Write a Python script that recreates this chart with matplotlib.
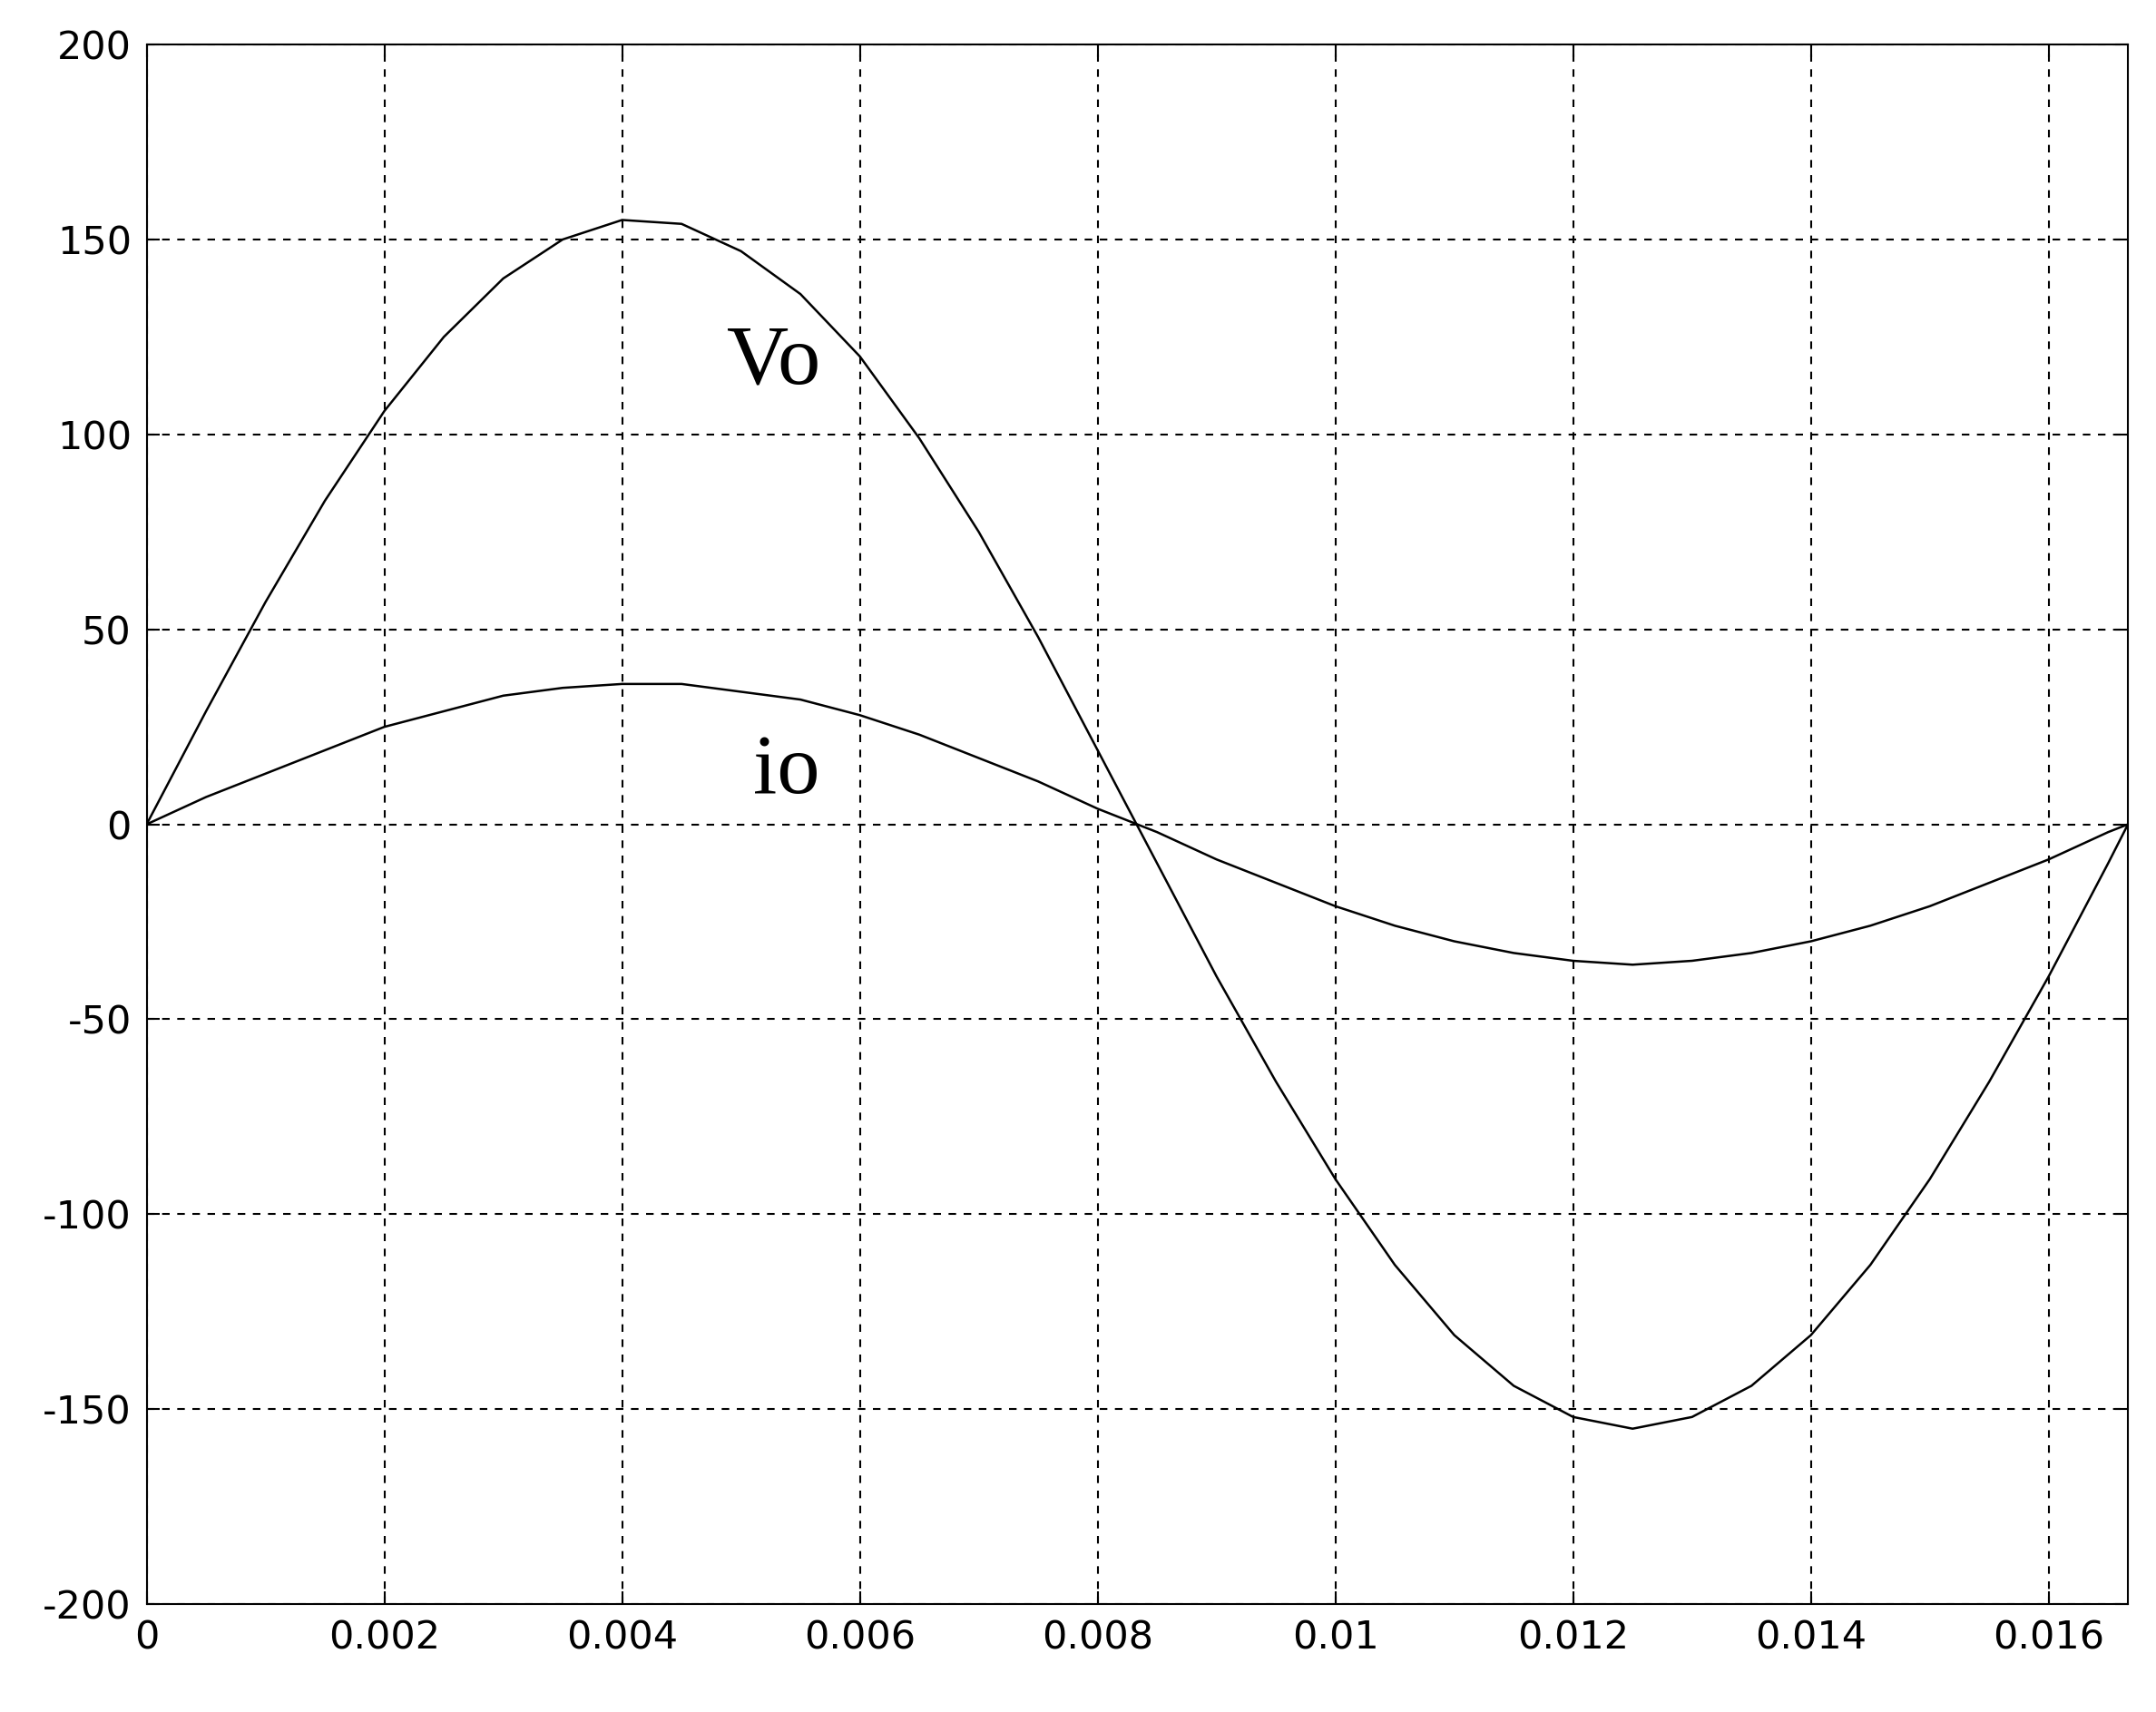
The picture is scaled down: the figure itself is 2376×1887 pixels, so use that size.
import numpy as np
import matplotlib
matplotlib.use("Agg")
import matplotlib.pyplot as plt

plt.rcParams["axes.unicode_minus"] = False

# Values (time in s)
t = [0, 0.0005, 0.001, 0.0015, 0.002, 0.0025, 0.003, 0.0035, 0.004, 0.0045,
     0.005, 0.0055, 0.006, 0.0065, 0.007, 0.0075, 0.008, 0.0085, 0.009, 0.0095,
     0.010, 0.0105, 0.011, 0.0115, 0.012, 0.0125, 0.013, 0.0135, 0.014, 0.0145,
     0.015, 0.0155, 0.016, 0.0165, 0.016667]
vo = [0, 29, 57, 83, 106, 125, 140, 150, 155, 154,
      147, 136, 120, 99, 75, 48, 19, -10, -39, -66,
      -91, -113, -131, -144, -152, -155, -152, -144, -131, -113,
      -91, -66, -39, -10, 0]
io = [0, 7, 13, 19, 25, 29, 33, 35, 36, 36,
      34, 32, 28, 23, 17, 11, 4, -2, -9, -15,
      -21, -26, -30, -33, -35, -36, -35, -33, -30, -26,
      -21, -15, -9, -2, 0]
xticks = [0, 0.002, 0.004, 0.006, 0.008, 0.01, 0.012, 0.014, 0.016]
xlabels = ["0", "0.002", "0.004", "0.006", "0.008", "0.01", "0.012", "0.014", "0.016"]
yticks = [-200, -150, -100, -50, 0, 50, 100, 150, 200]

fig = plt.figure(figsize=(23.76, 18.87), dpi=100)
ax = fig.add_axes([0.068, 0.063, 0.919, 0.911])
ax.plot(t, vo, color="black", lw=1.8)
ax.plot(t, io, color="black", lw=1.8)
ax.set_xlim(0, 0.016667)
ax.set_ylim(-200, 200)
ax.set_xticks(xticks)
ax.set_xticklabels(xlabels)
ax.set_yticks(yticks)
ax.tick_params(direction="in", labelsize=31, length=10, width=1.5, pad=12,
               top=True, right=True)
ax.grid(True, color="black", linestyle=(0, (4, 4)), lw=1.5)
for s in ax.spines.values():
    s.set_linewidth(1.5)

ax.text(0.00488, 113, "Vo", fontsize=68, family="Liberation Serif")
ax.text(0.0051, 8, "io", fontsize=68, family="Liberation Serif")

fig.savefig("out.png", dpi=100)
